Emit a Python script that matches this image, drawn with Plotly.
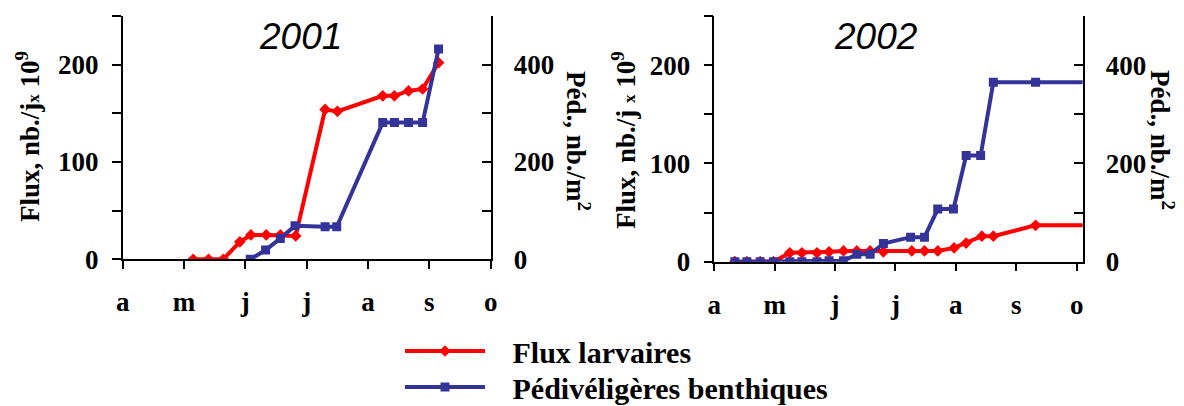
import plotly.graph_objects as go

# x positions in months since 1 April (a=0, m=1, j=2, j=3, a=4, s=5, o=6)
month_labels = ["a", "m", "j", "j", "a", "s", "o"]
month_ticks = [0, 1, 2, 3, 4, 5, 6]

# 2001
flux01_x = [1.15, 1.40, 1.64, 1.91, 2.09, 2.34, 2.57, 2.82, 3.30, 3.50, 4.24, 4.43, 4.66, 4.89, 5.15]
flux01_y = [0, 0, 0, 18, 25, 25, 25, 24, 154, 152, 168, 168, 173, 175, 202]
ped01_x = [2.08, 2.33, 2.57, 2.81, 3.30, 3.49, 4.24, 4.43, 4.66, 4.89, 5.15]
ped01_y = [0, 19, 43, 69, 67, 67, 281, 281, 281, 281, 432]

# 2002
flux02_x = [0.34, 0.54, 0.76, 0.98, 1.25, 1.45, 1.70, 1.90, 2.14, 2.36, 2.58, 2.80,
            3.27, 3.48, 3.70, 3.97, 4.17, 4.43, 4.62, 5.32, 6.25]
flux02_y = [0, 0, 0, 0, 9, 9, 9, 10, 11, 11, 11, 10,
            11, 11, 11, 14, 19, 26, 26, 37, 37]
ped02_x = [0.34, 0.54, 0.76, 0.98, 1.25, 1.45, 1.70, 1.90, 2.14, 2.36, 2.58, 2.80,
           3.25, 3.48, 3.70, 3.96, 4.17, 4.41, 4.62, 5.32, 6.25]
ped02_y = [0, 0, 0, 0, 0, 0, 0, 2, 2, 15, 15, 37,
           50, 50, 107, 107, 216, 216, 365, 365, 365]

RED = "#FF0000"
BLUE = "#333399"
SERIF = "Liberation Serif, Times New Roman, serif"
GAP = "\u00a0\u00a0\u00a0"

fig = go.Figure()

def add_pair(fx, fy, px, py, xa, ya_l, ya_r, show):
    fig.add_trace(go.Scatter(
        x=fx, y=fy, xaxis=xa, yaxis=ya_l, mode="lines+markers",
        name=GAP + "Flux larvaires", showlegend=show, legend="legend",
        line=dict(color=RED, width=4),
        marker=dict(symbol="diamond", size=9, color=RED)))
    fig.add_trace(go.Scatter(
        x=px, y=py, xaxis=xa, yaxis=ya_r, mode="lines+markers",
        name=GAP + "Pédivéligères benthiques", showlegend=show, legend="legend2",
        line=dict(color=BLUE, width=4),
        marker=dict(symbol="square", size=9, color=BLUE)))

add_pair(flux01_x, flux01_y, ped01_x, ped01_y, "x", "y", "y2", True)
add_pair(flux02_x, flux02_y, ped02_x, ped02_y, "x2", "y3", "y4", False)

W, H = 1184, 406
tickfont = dict(family=SERIF, size=27, color="black", weight="bold")

def xaxis(domain, rng):
    return dict(domain=domain, range=rng, tickvals=month_ticks, ticktext=month_labels,
                ticks="outside", ticklen=8, tickwidth=1.5, tickcolor="black",
                showline=True, linecolor="black", linewidth=1.5,
                showgrid=False, zeroline=False, tickfont=tickfont,
                ticklabelstandoff=10, automargin=False)

def yleft(domain, anchor):
    return dict(domain=domain, range=[0, 250], tickvals=[0, 50, 100, 150, 200, 250],
                ticktext=["0", "", "100", "", "200", ""],
                ticks="outside", ticklen=9, tickwidth=1.5, tickcolor="black",
                showline=True, linecolor="black", linewidth=1.5,
                showgrid=False, zeroline=False, tickfont=tickfont, anchor=anchor,
                ticklabelstandoff=8, automargin=False)

def yright(overlay, anchor):
    return dict(overlaying=overlay, side="right", anchor=anchor, range=[0, 500],
                tickvals=[0, 100, 200, 300, 400, 500],
                ticktext=["0", "", "200", "", "400", ""],
                ticks="inside", ticklen=9, tickwidth=1.5, tickcolor="black",
                showline=True, linecolor="black", linewidth=1.5,
                showgrid=False, zeroline=False, tickfont=tickfont,
                ticklabelstandoff=16, automargin=False)

xl = [122.7 / W, 490.7 / W]
xr = [714.3 / W, 1082.7 / W]
yd1 = [1 - 259.3 / H, 1 - 16 / H]
yd2 = [1 - 261.7 / H, 1 - 16 / H]

legfont = dict(family=SERIF, size=30, color="black", weight="bold")

fig.update_layout(
    width=W, height=H, margin=dict(l=0, r=0, t=0, b=0, autoexpand=False),
    paper_bgcolor="white", plot_bgcolor="white",
    xaxis=dict(xaxis(xl, [0, 6]), anchor="y"),
    yaxis=yleft(yd1, "x"),
    yaxis2=yright("y", "x"),
    xaxis2=dict(xaxis(xr, [0, 6.1]), anchor="y3"),
    yaxis3=yleft(yd2, "x2"),
    yaxis4=yright("y3", "x2"),
    legend=dict(x=400 / W, y=1 - 351 / H, xanchor="left", yanchor="middle",
                font=legfont, itemwidth=80, bgcolor="rgba(0,0,0,0)"),
    legend2=dict(x=400 / W, y=1 - 387 / H, xanchor="left", yanchor="middle",
                 font=legfont, itemwidth=80, bgcolor="rgba(0,0,0,0)"),
    showlegend=True,
)

title_font = dict(family="Liberation Sans, Arial, sans-serif", size=37,
                  color="black", style="italic")
axt_font = dict(family=SERIF, size=27, color="black", weight="bold")

ann = [
    dict(text="2001", x=300 / W, y=1 - 37 / H, font=title_font),
    dict(text="2002", x=876 / W, y=1 - 37 / H, font=title_font),
    dict(text="Flux, nb./j<span style='font-size:17px'>x</span> 10<sup>9</sup>",
         x=28 / W, y=1 - 137 / H, textangle=-90, font=axt_font),
    dict(text="Flux, nb./j <span style='font-size:17px'>x</span> 10<sup>9</sup>",
         x=624 / W, y=1 - 140 / H, textangle=-90, font=axt_font),
    dict(text="Péd., nb./m<sup>2</sup>", x=578 / W, y=1 - 141 / H, textangle=90, font=axt_font),
    dict(text="Péd., nb./m<sup>2</sup>", x=1162 / W, y=1 - 140 / H, textangle=90, font=axt_font),
]
for a in ann:
    a.update(xref="paper", yref="paper", showarrow=False, xanchor="center", yanchor="middle")
fig.update_layout(annotations=ann)

fig.write_html("out.html")
